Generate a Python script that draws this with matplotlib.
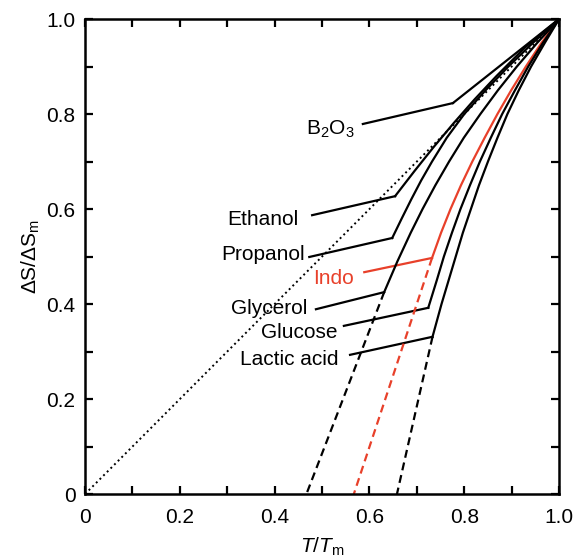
import matplotlib.pyplot as plt

plt.rcParams['font.family'] = ['Liberation Sans', 'DejaVu Sans']
plt.rcParams['mathtext.fontset'] = 'custom'
plt.rcParams['mathtext.rm'] = 'Liberation Sans'
plt.rcParams['mathtext.it'] = 'Liberation Sans:italic'
plt.rcParams['mathtext.bf'] = 'Liberation Sans:bold'

RED = '#e8402a'

# T/Tm vs dS/dSm, each curve from its kink up to (1, 1)
b2o3_x = [0.776, 1.0]
b2o3_y = [0.823, 1.0]

ethanol_x = [0.654, 0.695, 0.735, 0.777, 0.821, 0.868, 0.928, 1.0]
ethanol_y = [0.627, 0.680, 0.730, 0.780, 0.830, 0.880, 0.940, 1.0]

propanol_x = [0.648, 0.668, 0.688, 0.709, 0.732, 0.763, 0.800, 0.845, 0.893, 0.945, 1.0]
propanol_y = [0.539, 0.580, 0.620, 0.660, 0.700, 0.750, 0.800, 0.850, 0.900, 0.950, 1.0]

glycerol_x = [0.631, 0.659, 0.687, 0.712, 0.739, 0.768, 0.799, 0.834, 0.871, 0.911, 0.954, 1.0]
glycerol_y = [0.425, 0.490, 0.550, 0.600, 0.650, 0.700, 0.750, 0.800, 0.850, 0.900, 0.950, 1.0]

indo_x = [0.732, 0.751, 0.771, 0.793, 0.817, 0.843, 0.870, 0.899, 0.930, 0.963, 1.0]
indo_y = [0.497, 0.550, 0.600, 0.650, 0.700, 0.750, 0.800, 0.850, 0.900, 0.950, 1.0]

glucose_x = [0.724, 0.742, 0.757, 0.774, 0.792, 0.812, 0.833, 0.856, 0.880, 0.907, 0.935, 0.966, 1.0]
glucose_y = [0.392, 0.450, 0.500, 0.550, 0.600, 0.650, 0.700, 0.750, 0.800, 0.850, 0.900, 0.950, 1.0]

lactic_x = [0.733, 0.752, 0.767, 0.782, 0.797, 0.814, 0.831, 0.850, 0.870, 0.891, 0.915, 0.941, 0.970, 1.0]
lactic_y = [0.331, 0.400, 0.450, 0.500, 0.550, 0.600, 0.650, 0.700, 0.750, 0.800, 0.850, 0.900, 0.950, 1.0]

# dashed extrapolations from the kink down to dS = 0
glycerol_ext_x = [0.631, 0.467]
glycerol_ext_y = [0.425, 0.0]
indo_ext_x = [0.732, 0.567]
indo_ext_y = [0.497, 0.0]
lactic_ext_x = [0.733, 0.658]
lactic_ext_y = [0.331, 0.0]

# ideal line dS/dSm = T/Tm
ideal_x = [0.0, 1.0]
ideal_y = [0.0, 1.0]

tick_vals = [0.0, 0.2, 0.4, 0.6, 0.8, 1.0]
tick_labels = ['0', '0.2', '0.4', '0.6', '0.8', '1.0']
minor_vals = [0.1, 0.3, 0.5, 0.7, 0.9]

# label text, colour, leader start (x, y), text anchor (x, baseline y)
labels = [
    (r'B$_2$O$_3$', 'black', (0.586, 0.779), (0.568, 0.757), (b2o3_x, b2o3_y)),
    ('Ethanol', 'black', (0.479, 0.587), (0.451, 0.566), (ethanol_x, ethanol_y)),
    ('Propanol', 'black', (0.473, 0.499), (0.464, 0.493), (propanol_x, propanol_y)),
    ('Indo', RED, (0.589, 0.467), (0.568, 0.442), (indo_x, indo_y)),
    ('Glycerol', 'black', (0.487, 0.389), (0.470, 0.379), (glycerol_x, glycerol_y)),
    ('Glucose', 'black', (0.546, 0.354), (0.532, 0.328), (glucose_x, glucose_y)),
    ('Lactic acid', 'black', (0.559, 0.293), (0.534, 0.272), (lactic_x, lactic_y)),
]

fig = plt.figure(figsize=(5.75, 5.56), dpi=100)
ax = fig.add_axes([0.148, 0.1115, 0.8243, 0.8543])

ax.plot(ideal_x, ideal_y, color='black', linestyle=':', linewidth=1.4)

for text, color, start, anchor, (cx, cy) in labels:
    ax.plot(cx, cy, color=color, linewidth=1.6, solid_joinstyle='round')
    # leader from the label to the kink
    ax.plot([start[0], cx[0]], [start[1], cy[0]], color=color, linewidth=1.6)
    ax.text(anchor[0], anchor[1], text, color=color, fontsize=15,
            ha='right', va='baseline')

for ex, ey, color in [(glycerol_ext_x, glycerol_ext_y, 'black'),
                      (indo_ext_x, indo_ext_y, RED),
                      (lactic_ext_x, lactic_ext_y, 'black')]:
    ax.plot(ex, ey, color=color, linewidth=1.6, dashes=(3.6, 2.2))

ax.set_xlim(0, 1)
ax.set_ylim(0, 1)
ax.set_xticks(tick_vals)
ax.set_xticklabels(tick_labels)
ax.set_yticks(tick_vals)
ax.set_yticklabels(tick_labels)
ax.set_xticks(minor_vals, minor=True)
ax.set_yticks(minor_vals, minor=True)
ax.tick_params(which='both', direction='in', top=True, right=True,
               length=6, width=1.6, labelsize=15)
ax.tick_params(axis='x', pad=10)
ax.tick_params(axis='y', pad=7)
for sp in ax.spines.values():
    sp.set_linewidth(1.8)

ax.set_xlabel(r'$T$/$T_{\rm m}$', fontsize=15, labelpad=6)
ax.set_ylabel(r'ΔS/ΔS$_{\rm m}$', fontsize=15, labelpad=3)

fig.savefig('out.png', dpi=100)
